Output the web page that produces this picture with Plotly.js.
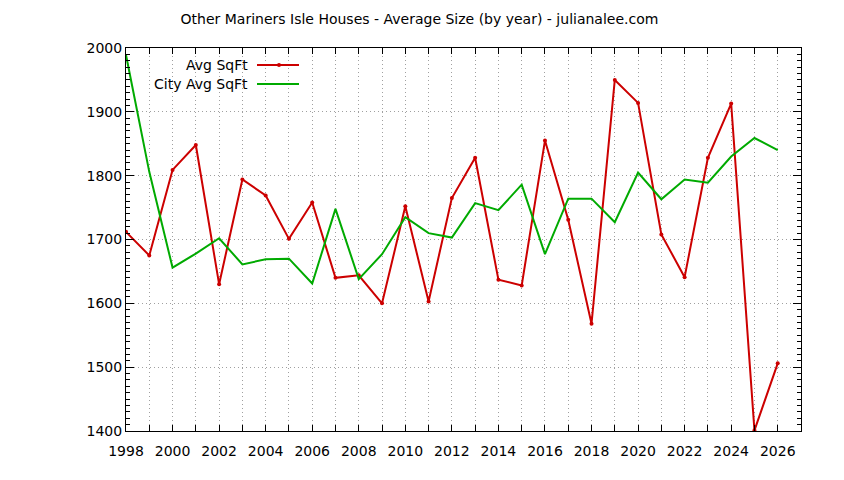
<!DOCTYPE html>
<html>
<head>
<meta charset="utf-8">
<script src="https://cdn.plot.ly/plotly-3.0.1.min.js"></script>
<style>html,body{margin:0;padding:0;background:#fff;}#chart{width:844px;height:480px;}</style>
</head>
<body>
<div id="chart"></div>
<script>
const years = [1998,1999,2000,2001,2002,2003,2004,2005,2006,2007,2008,2009,2010,2011,2012,2013,2014,2015,2016,2017,2018,2019,2020,2021,2022,2023,2024,2025,2026];
const avgSqFt = [1712,1675,1809,1848,1630,1794,1769,1701,1758,1640,1644,1600,1752,1603,1765,1828,1637,1628,1855,1731,1568,1950,1914,1708,1641,1828,1913,1401,1506];
const cityAvgSqFt = [1989,1806,1656,1678,1702,1661,1669,1670,1631,1748,1638,1677,1735,1710,1703,1757,1746,1786,1677,1764,1764,1727,1805,1763,1794,1789,1830,1859,1840];
const seriesNames = ["Avg SqFt","City Avg SqFt"];
const titleText = "Other Mariners Isle Houses - Average Size (by year) - julianalee.com";

const FONT = "'DejaVu Sans', sans-serif";
const RED = "#cc0000";
const GREEN = "#00aa00";
const GRID = "#a0a0a0";
const GRIDDASH = "1px,3px";

const traces = [
  {x: years, y: avgSqFt, name: seriesNames[0], type: "scatter", mode: "lines+markers",
   line: {color: RED, width: 2}, marker: {color: RED, size: 4, symbol: "circle"}, showlegend: false},
  {x: years, y: cityAvgSqFt, name: seriesNames[1], type: "scatter", mode: "lines",
   line: {color: GREEN, width: 2}, showlegend: false}
];

const axisCommon = {
  showline: true, linecolor: "#000", linewidth: 1, mirror: "allticks",
  ticks: "inside", tickcolor: "#000", tickwidth: 1,
  zeroline: false,
  gridcolor: GRID, griddash: GRIDDASH, gridwidth: 1,
  tickfont: {family: FONT, size: 14, color: "#000"}
};

const layout = {
  width: 844, height: 480,
  margin: {l: 126, r: 43, t: 48, b: 49},
  paper_bgcolor: "#fff", plot_bgcolor: "#fff",
  title: {text: titleText, x: 0.497, xanchor: "center", xref: "container", y: 0.96, yanchor: "middle",
          font: {family: FONT, size: 14, color: "#000"}},
  xaxis: Object.assign({}, axisCommon, {
    range: [1998, 2027], tick0: 1998, dtick: 2, ticklen: 6, tickangle: 0,
    ticklabelstandoff: 7,
    showgrid: true,
    minor: {dtick: 1, tick0: 1998, ticks: "inside", ticklen: 6, tickcolor: "#000", showgrid: true,
            gridcolor: GRID, griddash: GRIDDASH, gridwidth: 1}
  }),
  yaxis: Object.assign({}, axisCommon, {
    range: [1400, 2000], tick0: 1400, dtick: 100, ticklen: 8,
    showgrid: true,
    minor: {dtick: 10, ticks: "inside", ticklen: 4, tickcolor: "#000", showgrid: false}
  }),
  annotations: [
    {xref: "paper", yref: "paper", x: (250-126)/675, y: (431-65)/383, xanchor: "right", yanchor: "middle",
     text: seriesNames[0], showarrow: false, font: {family: FONT, size: 14, color: "#000"}},
    {xref: "paper", yref: "paper", x: (250-126)/675, y: (431-84)/383, xanchor: "right", yanchor: "middle",
     text: seriesNames[1], showarrow: false, font: {family: FONT, size: 14, color: "#000"}}
  ],
  shapes: [
    {type: "line", xref: "paper", yref: "paper", x0: (257-126)/675, x1: (299-126)/675,
     y0: (431-65)/383, y1: (431-65)/383, line: {color: RED, width: 2}},
    {type: "circle", xref: "paper", yref: "paper", x0: (277-126)/675, x1: (281-126)/675,
     y0: (431-67)/383, y1: (431-63)/383, fillcolor: RED, line: {color: RED, width: 0}},
    {type: "line", xref: "paper", yref: "paper", x0: (257-126)/675, x1: (299-126)/675,
     y0: (431-84)/383, y1: (431-84)/383, line: {color: GREEN, width: 2}}
  ]
};

Plotly.newPlot("chart", traces, layout, {staticPlot: true, displayModeBar: false});
</script>
</body>
</html>
